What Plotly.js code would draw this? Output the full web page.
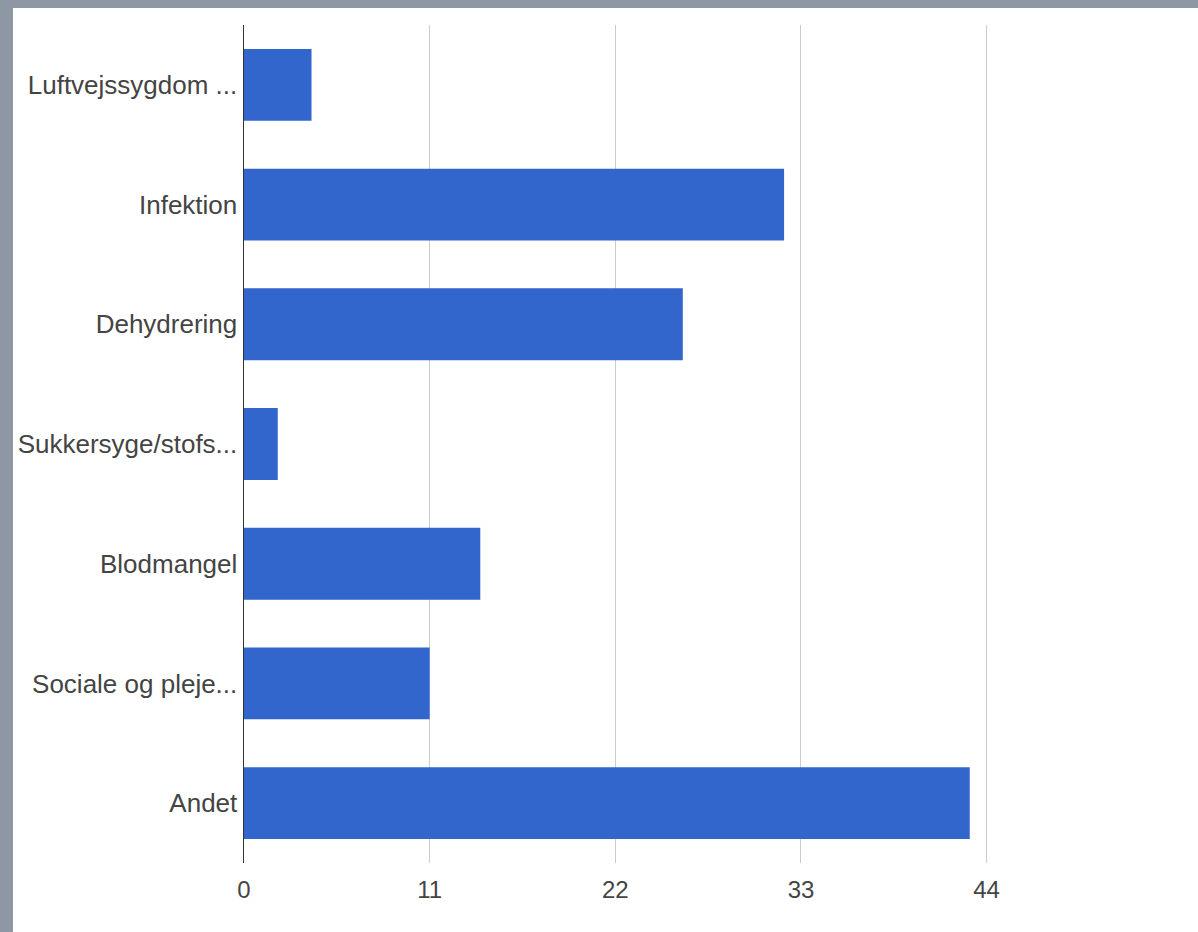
<!DOCTYPE html>
<html>
<head>
<meta charset="utf-8">
<script src="https://cdn.plot.ly/plotly-3.0.1.min.js"></script>
<style>
  html, body { margin: 0; padding: 0; background: #8d98a4; width: 1198px; height: 932px; overflow: hidden; }
  #chart { position: absolute; left: 13px; top: 8px; width: 1185px; height: 924px; background: #ffffff; }
</style>
</head>
<body>
<div id="chart"></div>
<script>
const categories = [
  "Luftvejssygdom ...",
  "Infektion",
  "Dehydrering",
  "Sukkersyge/stofs...",
  "Blodmangel",
  "Sociale og pleje...",
  "Andet"
];
const values = [4, 32, 26, 2, 14, 11, 43];
const tickValues = [0, 11, 22, 33, 44];

const trace = {
  type: 'bar',
  orientation: 'h',
  x: values,
  y: categories,
  marker: { color: '#3366cc' },
  hoverinfo: 'x+y'
};

const layout = {
  width: 1185,
  height: 924,
  margin: { l: 231, r: 208, t: 17, b: 69 },
  paper_bgcolor: '#ffffff',
  plot_bgcolor: '#ffffff',
  bargap: 0.4,
  showlegend: false,
  font: { family: 'Liberation Sans, Arial, sans-serif', size: 25, color: '#444444' },
  xaxis: {
    range: [0, 44.2],
    tickvals: tickValues,
    ticktext: tickValues.map(String),
    showgrid: true,
    gridcolor: '#cccccc',
    gridwidth: 1,
    zeroline: false,
    showline: false,
    ticks: '',
    ticklabelstandoff: 10,
    tickfont: { size: 24, color: '#444444' },
    fixedrange: true
  },
  yaxis: {
    autorange: 'reversed',
    type: 'category',
    showgrid: false,
    zeroline: false,
    showline: true,
    linecolor: '#333333',
    linewidth: 1.5,
    ticks: '',
    ticklabelstandoff: 0,
    tickfont: { size: 26, color: '#444444' },
    fixedrange: true
  }
};

Plotly.newPlot('chart', [trace], layout, { displayModeBar: false, staticPlot: true });
</script>
</body>
</html>
